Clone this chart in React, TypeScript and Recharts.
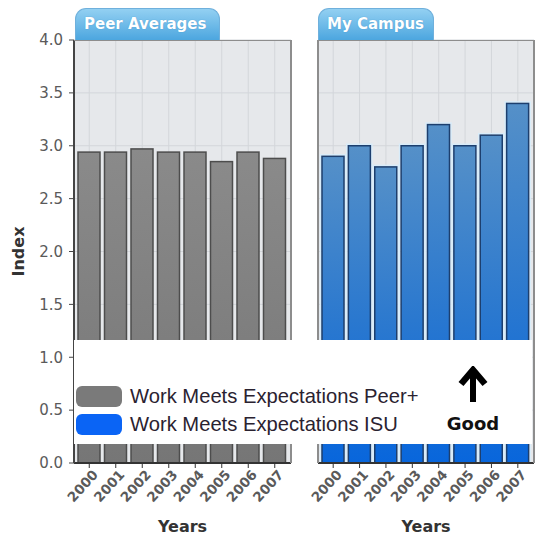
import React from "react";
import { BarChart, Bar, XAxis, YAxis, CartesianGrid, Label } from "recharts";

const years = ["2000", "2001", "2002", "2003", "2004", "2005", "2006", "2007"];
const peerValues = [2.94, 2.94, 2.97, 2.94, 2.94, 2.85, 2.94, 2.88];
const campusValues = [2.9, 3.0, 2.8, 3.0, 3.2, 3.0, 3.1, 3.4];
const yTicks = [0, 0.5, 1, 1.5, 2, 2.5, 3, 3.5, 4];
const legendLabels = ["Work Meets Expectations Peer+", "Work Meets Expectations ISU"];

const peerRows = years.map((year, i) => ({ year, value: peerValues[i] }));
const campusRows = years.map((year, i) => ({ year, value: campusValues[i] }));

const SANS = "'DejaVu Sans', Verdana, sans-serif";
const ARIAL = "'Liberation Sans', Arial, sans-serif";

const YearTick = ({ x, y, payload }: { x: number; y: number; payload: { value: string } }) => {
  const ax = x + 6;
  const ay = y + 2;
  return (
    <text
      x={ax}
      y={ay}
      dy="0.35em"
      textAnchor="end"
      transform={`rotate(-48, ${ax}, ${ay})`}
      fill="#5a5a5a"
      fontSize={13.5}
      fontWeight="bold"
      fontFamily={SANS}
    >
      {payload.value}
    </text>
  );
};

const GrayBar = (props: any) => {
  const { x, y, width, height } = props;
  return (
    <rect x={x} y={y} width={width} height={height} fill="url(#peerFill)" stroke="#4d4d4d" strokeWidth={1.5} />
  );
};

const BlueBar = (props: any) => {
  const { x, y, width, height } = props;
  return (
    <g>
      <rect x={x - 1.5} y={y - 1.5} width={width + 3} height={height + 1.5} fill="none" stroke="#d8ecfa" strokeWidth={1.5} />
      <rect x={x} y={y} width={width} height={height} fill="url(#campusFill)" stroke="#1d3f6e" strokeWidth={1.5} />
    </g>
  );
};

const xAxisCommon = {
  dataKey: "year",
  height: 74,
  interval: 0 as const,
  padding: { left: 2, right: 3 },
  tickSize: 5,
  tickLine: { stroke: "#333" },
  axisLine: { stroke: "#333", strokeWidth: 2 },
  tick: (p: any) => <YearTick {...p} />,
};

const yearsLabel = (
  <Label
    value="Years"
    position="insideBottom"
    offset={5}
    style={{ fontSize: 16, fontWeight: "bold", fill: "#333", fontFamily: SANS }}
  />
);

const Tab = ({ left, width, text }: { left: number; width: number; text: string }) => (
  <div
    style={{
      position: "absolute",
      left,
      top: 8,
      width,
      height: 32,
      boxSizing: "border-box",
      borderRadius: "11px 11px 0 0",
      border: "1px solid #6fb0dc",
      borderBottom: "none",
      background: "linear-gradient(#93d0f2, #4ca6df)",
      color: "#fff",
      fontFamily: SANS,
      fontWeight: "bold",
      fontSize: 15,
      lineHeight: "31px",
      paddingLeft: 8,
      textShadow: "0 0 1px #3d8cc4",
    }}
  >
    {text}
  </div>
);

export default function App() {
  return (
    <div style={{ position: "absolute", left: 0, top: 0, width: 536, height: 537, background: "#fff" }}>
      <div style={{ position: "absolute", left: 0, top: 0 }}>
        <BarChart width={300} height={537} data={peerRows} margin={{ top: 40, right: 9, bottom: 0, left: 0 }} barSize={22}>
          <defs>
            <linearGradient id="peerFill" x1="0" y1="0" x2="0" y2="1">
              <stop offset="0%" stopColor="#8a8a8a" />
              <stop offset="100%" stopColor="#767676" />
            </linearGradient>
          </defs>
          <CartesianGrid fill="#e6e8eb" stroke="#d3d6da" />
          <XAxis {...xAxisCommon}>{yearsLabel}</XAxis>
          <YAxis
            width={74}
            domain={[0, 4]}
            ticks={yTicks}
            tickFormatter={(v: number) => v.toFixed(1)}
            tickSize={5}
            tickMargin={6}
            tickLine={{ stroke: "#444" }}
            axisLine={{ stroke: "#444", strokeWidth: 2 }}
            tick={{ fill: "#5a5a5a", fontSize: 15, fontFamily: SANS }}
          >
            <Label
              value="Index"
              angle={-90}
              position="center"
              dx={-19}
              style={{ fontSize: 16, fontWeight: "bold", fill: "#333", fontFamily: SANS }}
            />
          </YAxis>
          <Bar dataKey="value" shape={GrayBar} isAnimationActive={false} />
        </BarChart>
      </div>

      <div style={{ position: "absolute", left: 300, top: 0 }}>
        <BarChart width={236} height={537} data={campusRows} margin={{ top: 40, right: 2, bottom: 0, left: 18 }} barSize={22}>
          <defs>
            <linearGradient id="campusFill" x1="0" y1="0" x2="0" y2="1">
              <stop offset="0%" stopColor="#5590c8" />
              <stop offset="55%" stopColor="#2a78cf" />
              <stop offset="100%" stopColor="#0866dc" />
            </linearGradient>
          </defs>
          <CartesianGrid fill="#e6e8eb" stroke="#d3d6da" />
          <XAxis {...xAxisCommon}>{yearsLabel}</XAxis>
          <YAxis hide domain={[0, 4]} ticks={yTicks} />
          <Bar dataKey="value" shape={BlueBar} isAnimationActive={false} />
        </BarChart>
      </div>

      {/* panel frames */}
      <div
        style={{
          position: "absolute",
          left: 74,
          top: 40,
          width: 218,
          height: 423,
          boxSizing: "border-box",
          borderTop: "1.5px solid #8d8d8d",
          borderRight: "2px solid #8d8d8d",
          pointerEvents: "none",
        }}
      />
      <div
        style={{
          position: "absolute",
          left: 317,
          top: 40,
          width: 218,
          height: 423,
          boxSizing: "border-box",
          borderTop: "1.5px solid #8d8d8d",
          borderLeft: "2px solid #8d8d8d",
          borderRight: "2px solid #8d8d8d",
          pointerEvents: "none",
        }}
      />

      <Tab left={75} width={145} text="Peer Averages" />
      <Tab left={318} width={116} text="My Campus" />

      {/* legend box laid over the lower part of both panels */}
      <div style={{ position: "absolute", left: 74, top: 340, width: 458, height: 104, background: "#fff" }}>
        {legendLabels.map((label, i) => (
          <div key={label} style={{ position: "absolute", left: 2, top: 45 + i * 28, height: 22, display: "flex", alignItems: "center" }}>
            <div
              style={{
                width: 46,
                height: 21,
                borderRadius: 6,
                background: i === 0 ? "#7a7a7a" : "#0a64f5",
              }}
            />
            <span style={{ marginLeft: 8, fontFamily: ARIAL, fontSize: 20.2, color: "#2a2230", whiteSpace: "nowrap" }}>
              {label}
            </span>
          </div>
        ))}
        <svg style={{ position: "absolute", left: 384, top: 26 }} width={30} height={40}>
          <path d="M15 36 L15 8" stroke="#000" strokeWidth={6} />
          <path d="M3 18 L15 4 L27 18" stroke="#000" strokeWidth={6.5} fill="none" strokeLinejoin="miter" />
        </svg>
        <div
          style={{
            position: "absolute",
            left: 369,
            top: 73,
            width: 60,
            textAlign: "center",
            fontFamily: SANS,
            fontWeight: "bold",
            fontSize: 18,
            color: "#111",
          }}
        >
          Good
        </div>
      </div>
    </div>
  );
}
